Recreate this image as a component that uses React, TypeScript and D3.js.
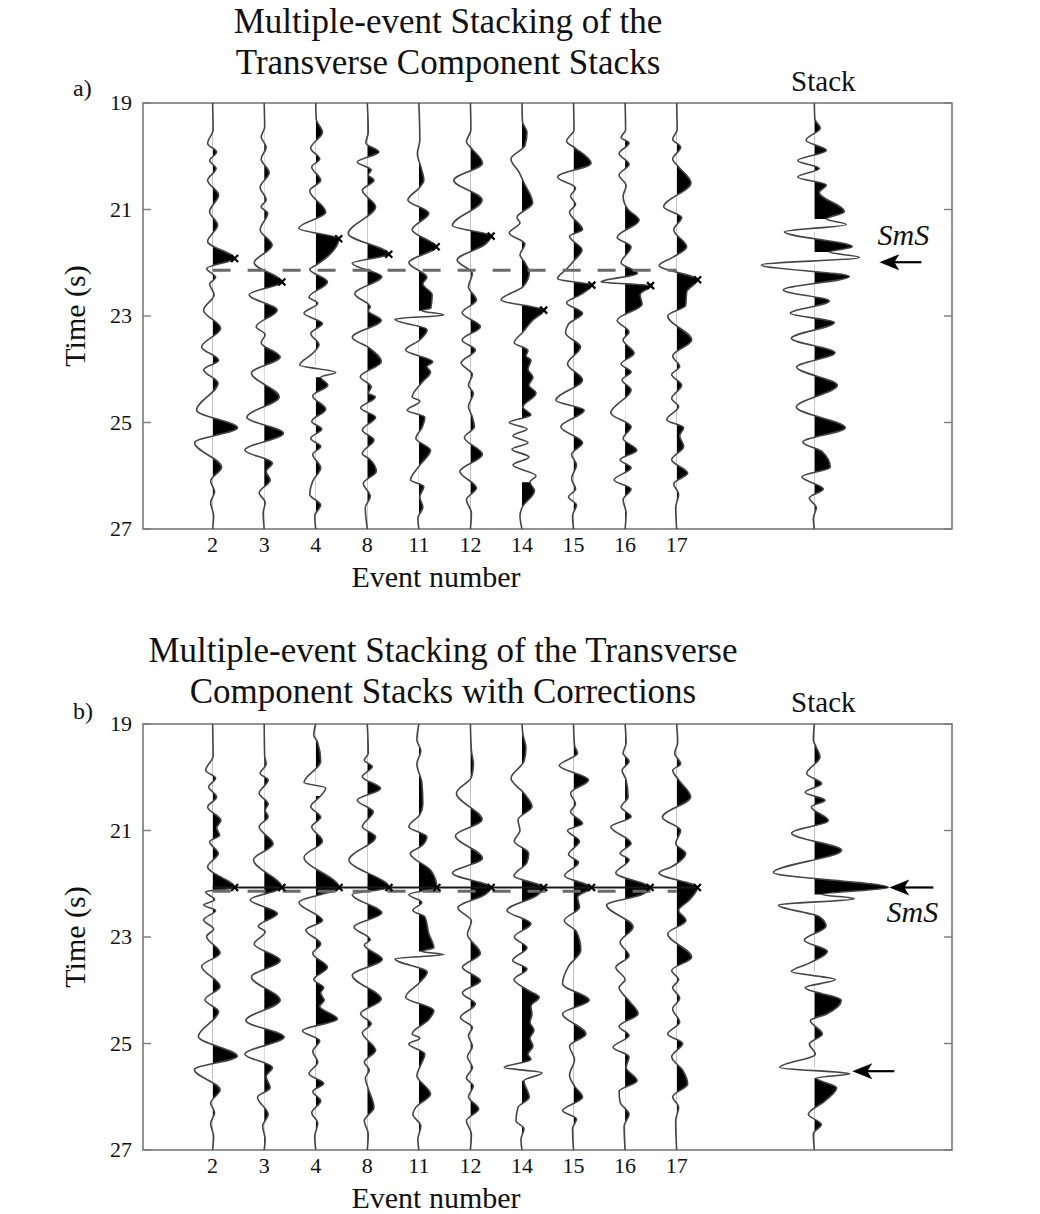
import * as d3 from "d3";
import React from "react";

type Pt = [number, number];

// axis values
const timeTicks = [19, 21, 23, 25, 27];
const eventLabels = ["2", "3", "4", "8", "11", "12", "14", "15", "16", "17"];
const referenceTime = 22.14; // dashed line
const correctedTime = 22.07; // solid line after corrections

// picked SmS times (panel a) and after corrections (panel b)
const picksA = [21.92, 22.36, 21.55, 21.84, 21.7, 21.5, 22.89, 22.42, 22.43, 22.32];
const picksB = [22.07, 22.07, 22.07, 22.07, 22.07, 22.07, 22.07, 22.07, 22.07, 22.07];

// ---- panel a traces: [time (s), amplitude] extrema ----
const traceA2: Pt[] = [[19,0],[19.5,0.05],[19.76,-0.5],[19.92,0.4],[20.08,-0.3],[20.23,0.35],[20.45,-0.5],[20.73,0.6],[21.04,-0.3],[21.29,0.5],[21.6,-0.5],[21.92,2.2],[22.11,-0.6],[22.27,0.3],[22.4,-0.3],[22.6,0.15],[22.89,-0.9],[23.23,0.8],[23.58,-1.1],[23.83,0.6],[24.01,-0.9],[24.26,0.55],[24.77,-1.6],[25.1,2.5],[25.38,-1.8],[25.84,0.9],[26.1,-0.2],[26.3,0.2],[26.5,-0.2],[26.75,0.1],[27,0]];
const traceA3: Pt[] = [[19,0],[19.45,0.05],[19.64,-0.3],[19.83,0.2],[20.05,-0.3],[20.31,0.5],[20.58,-0.4],[20.82,0.2],[20.95,-0.3],[21.07,0.35],[21.38,-0.4],[21.67,0.8],[22.0,-1.0],[22.36,1.77],[22.6,-1.5],[22.89,1.3],[23.2,-0.8],[23.35,0.1],[23.5,-0.3],[23.77,1.6],[24.07,-1.27],[24.52,1.5],[24.9,-1.73],[25.2,1.93],[25.52,-1.93],[25.76,0.83],[25.92,0.2],[26.08,0.6],[26.32,-0.5],[26.5,0.1],[26.7,-0.1],[27,0]];
const traceA4: Pt[] = [[19,0],[19.3,0.05],[19.55,0.67],[19.85,-0.5],[20.05,0.4],[20.2,-0.4],[20.45,0.5],[20.65,-0.6],[21.05,1.0],[21.35,-1.7],[21.55,2.3],[22.05,0],[22.12,-0.6],[22.36,1.17],[22.65,-0.67],[22.76,0.2],[22.95,-1.17],[23.14,0.67],[23.33,-0.5],[23.54,0.33],[23.7,-0.3],[23.92,-1.6],[24.06,2.0],[24.15,0.5],[24.3,1.2],[24.5,-0.3],[24.75,1.0],[24.98,-0.4],[25.12,0.6],[25.3,-0.5],[25.45,0.5],[25.6,-0.3],[25.85,0.5],[26.1,-0.3],[26.35,-0.6],[26.55,0.5],[26.75,-0.1],[27,0]];
const traceA8: Pt[] = [[19,0],[19.55,0.1],[19.75,-0.15],[19.92,1.17],[20.11,-1.0],[20.26,0.4],[20.35,0.1],[20.45,0.67],[20.64,-0.5],[20.95,0.83],[21.45,-1.9],[21.84,2.15],[22.01,-1.5],[22.26,1.45],[22.58,-1.25],[22.83,0.3],[22.9,0.1],[23.08,1.4],[23.4,-1.5],[23.6,0.2],[23.86,1.4],[24.14,-0.7],[24.33,0.4],[24.45,0.1],[24.52,0.8],[24.73,-0.67],[24.9,0.83],[25.14,-0.5],[25.33,0.67],[25.58,-0.5],[25.7,0.3],[25.92,0.9],[26.14,-0.4],[26.39,0.3],[26.6,-0.2],[27,0]];
const traceA11: Pt[] = [[19,0],[19.7,0.1],[19.95,-0.15],[20.2,0.2],[20.45,0.5],[20.6,0.0],[20.82,-1.1],[21.07,1.0],[21.38,-0.67],[21.7,1.73],[22.0,-1.0],[22.27,0.8],[22.4,0.4],[22.6,1.33],[22.85,1.2],[22.9,0.3],[22.98,2.5],[23.06,-2.4],[23.26,0.83],[23.45,0.1],[23.64,-1.33],[23.86,1.4],[23.95,0.8],[24.05,1.17],[24.25,0.3],[24.52,-0.67],[24.6,0.1],[24.77,-1.17],[24.9,0.6],[25.1,0.3],[25.3,-0.3],[25.52,1.17],[25.8,0.1],[26.08,-0.83],[26.2,0.5],[26.4,0.1],[26.59,0.4],[26.8,-0.1],[27,0]];
const traceA12: Pt[] = [[19,0],[19.5,0.05],[19.73,-0.4],[19.85,0.1],[20.13,1.2],[20.45,-1.67],[20.82,1.17],[21.3,-1.8],[21.5,2.07],[21.65,1.5],[21.95,-1.33],[22.2,0.2],[22.45,-0.2],[22.7,0.6],[22.94,-0.83],[23.2,1.0],[23.45,-0.83],[23.64,0.5],[23.88,-0.93],[24.1,0.2],[24.3,-0.2],[24.45,0.3],[24.7,-0.2],[24.9,0.2],[25.08,0.4],[25.28,-0.6],[25.6,1.2],[25.92,-1.05],[26.23,0.6],[26.45,-0.4],[26.7,0.1],[27,0]];
const traceA14: Pt[] = [[19,0],[19.35,0.05],[19.55,0.5],[19.8,0.3],[20.05,-1.1],[20.3,-0.3],[20.5,0.2],[20.88,1.07],[21.15,-0.5],[21.25,-0.2],[21.44,-1.27],[21.65,0.3],[21.85,-0.2],[22.0,0.3],[22.19,0.73],[22.45,0.1],[22.7,-2.1],[22.89,2.17],[23.08,1.07],[23.3,0.1],[23.5,-0.77],[23.65,0.6],[23.75,0.4],[23.83,0.9],[24.0,0.6],[24.15,1.1],[24.3,0.7],[24.45,1.4],[24.71,0.1],[24.86,0.9],[25.0,-1.27],[25.12,0.5],[25.25,-0.9],[25.38,0.6],[25.5,-1.0],[25.65,0.7],[25.8,-0.9],[26.0,1.4],[26.12,0.8],[26.28,1.25],[26.6,0.0],[26.75,-0.2],[27,0]];
const traceA15: Pt[] = [[19,0],[19.5,0.05],[19.72,-0.7],[19.85,0.2],[20.13,1.75],[20.39,-1.6],[20.6,0.2],[20.75,-0.3],[20.9,0.2],[21.05,-0.4],[21.38,0.9],[21.5,-0.4],[21.76,0.85],[21.95,0.1],[22.1,-0.6],[22.3,-1.6],[22.42,1.83],[22.6,0.7],[22.75,-0.7],[22.95,0.9],[23.15,-0.5],[23.32,-0.8],[23.58,0.7],[23.9,-0.6],[24.2,0.9],[24.58,-1.77],[24.77,1.07],[25.08,-1.27],[25.38,0.9],[25.6,-0.2],[25.8,0.3],[26.05,-0.2],[26.25,0.2],[26.4,-0.5],[26.55,0.3],[26.75,-0.1],[27,0]];
const traceA16: Pt[] = [[19,0],[19.5,0.05],[19.65,-0.4],[19.75,0.4],[19.95,-0.6],[20.15,0.4],[20.35,-0.6],[20.55,0.1],[20.75,-0.2],[21.0,0.3],[21.2,1.4],[21.52,-0.8],[21.7,0.6],[22.0,-0.4],[22.2,1.23],[22.36,-2.4],[22.43,2.55],[22.6,1.5],[22.78,1.7],[23.08,-0.8],[23.3,0.4],[23.45,-0.2],[23.7,0.9],[23.9,-0.4],[24.05,0.6],[24.2,-0.3],[24.39,0.6],[24.82,-1.43],[25.08,0.6],[25.3,-0.2],[25.52,1.17],[25.7,-0.5],[25.85,0.6],[26.08,-1.1],[26.25,0.6],[26.45,-0.2],[26.7,0.1],[27,0]];
const traceA17: Pt[] = [[19,0],[19.5,0.05],[19.68,-0.4],[19.83,0.4],[20.05,-0.4],[20.2,0.2],[20.5,1.43],[20.95,-1.3],[21.15,0.5],[21.38,-0.3],[21.7,1.0],[21.9,-0.4],[22.05,-1.75],[22.32,2.1],[22.55,1.0],[22.8,0.9],[23.0,-0.9],[23.45,1.5],[23.75,-0.4],[23.95,0.3],[24.1,-0.5],[24.3,0.5],[24.55,-0.5],[24.7,0.2],[24.95,-1.0],[25.1,0.7],[25.25,0.3],[25.45,0.7],[25.7,-0.5],[25.95,1.1],[26.15,-0.3],[26.35,0.2],[26.6,-0.1],[27,0]];
const stackA: Pt[] = [[19,0],[19.3,0.05],[19.47,0.6],[19.7,-0.83],[19.89,1.2],[20.08,-1.67],[20.23,0.5],[20.39,-1.67],[20.54,1.2],[20.68,0.5],[21.04,3.0],[21.18,1.2],[21.28,3.2],[21.42,-3.0],[21.7,3.8],[21.8,1.5],[21.9,4.5],[22.04,-5.3],[22.26,3.5],[22.51,-3.1],[22.72,1.5],[22.95,-2.4],[23.12,2.0],[23.42,-2.3],[23.69,2.07],[23.96,-1.77],[24.3,2.3],[24.71,-1.8],[25.1,3.1],[25.37,-1.15],[25.55,0.8],[25.84,1.6],[26.02,-1.25],[26.25,0.9],[26.42,-0.5],[26.6,0.2],[26.8,-0.1],[27,0]];

// ---- panel b traces (with corrections) ----
const traceB2: Pt[] = [[19,0],[19.6,0.05],[19.87,-0.7],[20.02,0.3],[20.18,-0.4],[20.37,0.4],[20.56,-0.5],[20.81,0.83],[20.95,0.4],[21.09,0.7],[21.21,-0.3],[21.43,0.57],[21.68,-0.5],[22.07,2.2],[22.15,-0.7],[22.3,0.2],[22.4,-0.9],[22.5,0.3],[22.68,-0.9],[22.85,0.1],[22.99,-0.6],[23.3,0.75],[23.55,-1.1],[23.93,0.75],[24.18,-0.77],[24.4,0.6],[24.87,-1.43],[25.24,2.47],[25.49,-1.83],[25.87,0.75],[26.12,-0.2],[26.3,0.2],[26.5,-0.2],[26.75,0.1],[27,0]];
const traceB3: Pt[] = [[19,0],[19.6,0.05],[19.75,0.2],[19.93,-0.4],[20.05,0.4],[20.3,-0.5],[20.5,0.4],[20.62,0.1],[20.74,0.4],[20.93,-0.5],[21.25,0.9],[21.55,-1.07],[22.07,1.77],[22.3,-1.4],[22.56,1.33],[22.8,-0.6],[22.9,0.1],[23.13,-1.0],[23.44,1.6],[23.75,-1.27],[24.19,1.6],[24.57,-1.83],[24.88,2.0],[25.2,-1.93],[25.45,0.83],[25.62,0.2],[25.83,0.6],[26.01,-0.67],[26.33,0.4],[26.55,-0.15],[26.8,0.1],[27,0]];
const traceB4: Pt[] = [[19,0],[19.2,-0.2],[19.35,0.2],[19.7,0.5],[20.1,-1.17],[20.2,1.0],[20.35,0.5],[20.55,-0.5],[20.75,0.5],[20.93,-0.4],[21.2,0.67],[21.5,-1.17],[22.07,2.33],[22.35,-1.67],[22.69,0.67],[22.87,-1.0],[23.13,0.5],[23.31,-0.3],[23.57,1.17],[23.8,-0.2],[23.95,0.8],[24.05,0.5],[24.19,0.85],[24.3,0.4],[24.54,2.17],[24.76,-1.33],[24.95,0.4],[25.15,-0.3],[25.35,0.2],[25.57,-0.67],[25.75,0.8],[25.9,-0.3],[26.08,0.5],[26.3,-0.4],[26.5,0.2],[26.75,-0.1],[27,0]];
const traceB8: Pt[] = [[19,0],[19.55,0.1],[19.68,-0.3],[19.8,0.5],[19.99,-0.5],[20.21,1.33],[20.43,-1.0],[20.65,0.6],[20.93,-0.5],[21.12,0.83],[21.55,-1.83],[22.07,2.17],[22.2,-1.5],[22.55,1.45],[22.81,-1.33],[23.05,0.3],[23.15,-0.3],[23.42,1.5],[23.72,-1.5],[24.17,1.4],[24.44,-0.67],[24.63,0.4],[24.8,-0.5],[25.13,0.83],[25.35,-0.3],[25.5,0.2],[25.65,-0.2],[25.85,0.1],[26.2,0.67],[26.45,-0.3],[26.7,0.1],[27,0]];
const traceB11: Pt[] = [[19,0],[19.3,-0.2],[19.5,0.2],[19.75,-0.2],[20.1,0.3],[20.5,0.4],[20.7,0.1],[20.93,-1.0],[21.12,0.8],[21.3,0.2],[21.43,-0.87],[21.75,1.2],[22.07,1.8],[22.2,-1.0],[22.35,0.3],[22.5,-0.6],[22.62,0.6],[22.94,1.0],[23.2,1.5],[23.27,0.3],[23.33,2.5],[23.41,-2.4],[23.66,0.83],[23.85,0.1],[24.13,-1.33],[24.38,1.5],[24.55,1.0],[24.82,-0.67],[24.9,0.1],[25.01,-1.0],[25.2,0.6],[25.4,0.2],[25.6,-0.2],[25.95,1.17],[26.2,-0.3],[26.33,-0.6],[26.55,0.2],[26.8,-0.1],[27,0]];
const traceB12: Pt[] = [[19,0],[19.5,0.1],[19.75,0.3],[20.0,0.1],[20.3,-1.4],[20.8,1.17],[21.1,-1.5],[21.52,1.2],[21.8,-1.8],[22.07,2.07],[22.2,1.5],[22.45,-1.25],[22.7,0.1],[22.95,-0.3],[23.31,1.0],[23.57,-0.8],[23.82,1.0],[24.05,-0.8],[24.26,0.5],[24.51,-1.0],[24.7,0.2],[24.85,-0.2],[25.05,0.2],[25.25,-0.3],[25.45,0.2],[25.65,-0.4],[25.8,0.3],[26.0,-0.2],[26.23,0.83],[26.45,-0.4],[26.7,0.1],[27,0]];
const traceB14: Pt[] = [[19,0],[19.2,0.1],[19.45,0.4],[19.7,0.2],[20.02,-1.1],[20.3,0.2],[20.55,1.0],[20.8,-0.4],[21.0,-0.2],[21.2,-0.77],[21.43,0.67],[21.6,0.5],[21.85,-0.8],[22.07,2.17],[22.22,1.5],[22.5,-1.5],[22.75,0.9],[23.0,-0.77],[23.2,0.5],[23.44,-0.93],[23.6,0.5],[23.8,-0.8],[24.0,0.6],[24.13,1.73],[24.3,0.9],[24.45,1.0],[24.6,0.8],[24.75,1.2],[24.9,0.8],[25.05,1.1],[25.2,0.6],[25.3,0.9],[25.45,-1.77],[25.55,2.0],[25.7,0.2],[26.01,0.73],[26.2,-0.4],[26.45,-0.6],[26.6,0.2],[26.8,-0.1],[27,0]];
const traceB15: Pt[] = [[19,0],[19.4,0.1],[19.55,0.4],[19.78,-1.43],[20.05,1.5],[20.3,-0.3],[20.5,0.2],[20.65,-0.3],[20.87,0.9],[21.0,-0.6],[21.2,0.6],[21.45,-0.5],[21.6,0.5],[21.85,-0.9],[22.07,1.8],[22.25,0.4],[22.44,0.6],[22.69,-0.93],[22.9,0.3],[23.25,0.73],[23.55,-0.5],[23.88,-1.1],[24.19,1.57],[24.44,-1.1],[24.82,1.23],[25.05,-0.4],[25.3,0.1],[25.6,-0.4],[25.8,0.1],[26.01,0.9],[26.26,-1.1],[26.42,0.3],[26.6,-0.1],[27,0]];
const traceB16: Pt[] = [[19,0],[19.35,0.1],[19.55,-0.2],[19.7,0.4],[19.87,-0.3],[20.05,0.1],[20.37,0.3],[20.56,-0.4],[20.74,0.6],[20.93,-1.43],[21.24,0.6],[21.43,-0.5],[21.55,0.4],[21.8,-0.93],[22.07,2.5],[22.2,1.73],[22.4,-1.85],[22.81,0.8],[23.1,-0.5],[23.35,0.4],[23.57,-0.93],[23.8,0.0],[23.95,-0.6],[24.2,0.4],[24.44,1.3],[24.68,-0.6],[24.85,0.4],[25.07,-1.2],[25.25,0.4],[25.45,0.1],[25.7,1.2],[25.9,-0.6],[26.1,-0.5],[26.33,0.4],[26.55,-0.1],[27,0]];
const traceB17: Pt[] = [[19,0],[19.35,0.1],[19.55,-0.2],[19.75,0.4],[19.87,-0.4],[20.05,0.2],[20.37,1.4],[20.75,-1.43],[21.0,0.4],[21.25,-0.1],[21.43,0.9],[21.68,-0.5],[21.8,-1.77],[22.07,2.07],[22.3,1.3],[22.5,0.2],[22.69,0.93],[22.94,-0.9],[23.38,1.5],[23.63,-0.5],[23.8,0.2],[23.95,-0.4],[24.15,0.3],[24.35,-0.4],[24.6,0.3],[24.82,-0.9],[25.0,0.6],[25.25,-0.5],[25.5,0.6],[25.76,1.1],[26.0,-0.4],[26.2,0.2],[26.45,-0.1],[27,0]];
const stackB: Pt[] = [[19,0],[19.3,-0.1],[19.42,0.15],[19.62,0.57],[19.93,-0.77],[20.12,0.73],[20.28,-0.93],[20.43,1.07],[20.56,-0.3],[20.81,1.4],[21.05,-2.27],[21.37,2.73],[21.79,-4.1],[22.07,7.4],[22.2,0.8],[22.28,4.0],[22.4,-3.6],[22.62,0.5],[22.8,1.17],[23.06,-1.0],[23.27,1.3],[23.49,-0.5],[23.65,-2.3],[23.8,2.1],[23.95,-0.9],[24.19,2.7],[24.44,1.3],[24.57,-0.4],[24.82,0.8],[25.01,-0.5],[25.2,0.1],[25.45,-3.45],[25.57,3.55],[25.65,0.2],[25.83,2.23],[26.08,1.07],[26.33,-0.6],[26.52,0.7],[26.7,-0.1],[27,0]];

const tracesA = [traceA2, traceA3, traceA4, traceA8, traceA11, traceA12, traceA14, traceA15, traceA16, traceA17];
const tracesB = [traceB2, traceB3, traceB4, traceB8, traceB11, traceB12, traceB14, traceB15, traceB16, traceB17];

// positive lobes drawn as outline only (no black fill)
const hollowA: number[][] = [[], [], [24.06], [], [22.98], [], [25.12, 25.38, 25.65, 26.0], [], [], []];
const hollowB: number[][] = [[], [], [20.2], [], [23.33], [], [25.55], [], [], []];
const hollowStackA = [21.28, 21.9];
const hollowStackB = [22.28, 23.8, 25.57];

const FONT = "'Liberation Serif', 'Times New Roman', serif";
const boxLeft = 143;
const boxRight = 952;
const boxHeight = 426;
const x = d3.scaleLinear().domain([-1.35, 14.34]).range([boxLeft, boxRight]);
const stackPos = 11.67;
const gain = d3.scaleLinear().domain([0, 1]).range([0, 10]);

function fillRanges(pts: Pt[], hollow: number[]): [number, number][] {
  const gaps = hollow
    .map((h) => {
      const i = d3.minIndex(pts, (p) => Math.abs(p[0] - h));
      return [pts[i - 1][0], pts[i + 1][0]] as [number, number];
    })
    .sort((a, b) => a[0] - b[0]);
  const out: [number, number][] = [];
  let start = 19;
  for (const [a, b] of gaps) {
    out.push([start, a]);
    start = b;
  }
  out.push([start, 27]);
  return out;
}

function Wiggle({ id, pts, base, hollow, y }: { id: string; pts: Pt[]; base: number; hollow: number[]; y: d3.ScaleLinear<number, number> }) {
  const line = d3.line<Pt>().x((d) => base + gain(d[1])).y((d) => y(d[0])).curve(d3.curveMonotoneY);
  const area = d3.area<Pt>().y((d) => y(d[0])).x0(base).x1((d) => base + gain(d[1])).curve(d3.curveMonotoneY);
  const ranges = fillRanges(pts, hollow);
  return (
    <g>
      <clipPath id={id}>
        {ranges.map(([a, b], i) => (
          <rect key={i} x={base} y={y(a)} width={120} height={y(b) - y(a)} />
        ))}
      </clipPath>
      <path d={area(pts) || ""} fill="#000" clipPath={`url(#${id})`} />
      <path d={line(pts) || ""} fill="none" stroke="#454545" strokeWidth={1.6} />
    </g>
  );
}

function Arrow({ tipX, tailX, yy }: { tipX: number; tailX: number; yy: number }) {
  return (
    <g>
      <line x1={tipX + 14} x2={tailX} y1={yy} y2={yy} stroke="#000" strokeWidth={2.2} />
      <path d={`M${tipX},${yy} L${tipX + 20},${yy - 8} L${tipX + 15},${yy} L${tipX + 20},${yy + 8} Z`} fill="#000" />
    </g>
  );
}

function Panel({ id, top, letter, letterY, titleLines, titleX, titleY, traces, hollows, stack, stackHollow, picks, corrected }: any) {
  const y = d3.scaleLinear().domain([19, 27]).range([top, top + boxHeight]);
  const bottom = top + boxHeight;
  const midY = (top + bottom) / 2;
  return (
    <g fontFamily={FONT}>
      {titleLines.map((t: string, i: number) => (
        <text key={i} x={titleX} y={titleY + i * 41} textAnchor="middle" fontSize={35} fill="#111">{t}</text>
      ))}
      <text x={73} y={letterY} fontSize={24} fill="#111">{letter}</text>
      <text x={x(stackPos) + 9} y={top - 12} textAnchor="middle" fontSize={29} fill="#111">Stack</text>
      <rect x={boxLeft} y={top} width={boxRight - boxLeft} height={boxHeight} fill="none" stroke="#7a7a7a" strokeWidth={1.6} />
      {timeTicks.map((t) => (
        <g key={t}>
          <line x1={boxLeft} x2={boxLeft + 8} y1={y(t)} y2={y(t)} stroke="#7a7a7a" strokeWidth={1.4} />
          <line x1={boxRight - 8} x2={boxRight} y1={y(t)} y2={y(t)} stroke="#7a7a7a" strokeWidth={1.4} />
          <text x={132} y={y(t)} dy="0.33em" textAnchor="end" fontSize={22} fill="#111">{t}</text>
        </g>
      ))}
      {eventLabels.map((lab, i) => (
        <text key={lab} x={x(i)} y={bottom + 23} textAnchor="middle" fontSize={22} fill="#111">{lab}</text>
      ))}
      <text x={436} y={bottom + 58} textAnchor="middle" fontSize={30} fill="#111">Event number</text>
      <text transform={`translate(85,${midY}) rotate(-90)`} textAnchor="middle" fontSize={30} fill="#111">Time (s)</text>
      {traces.map((pts: Pt[], i: number) => (
        <Wiggle key={i} id={`${id}-t${i}`} pts={pts} base={x(i)} hollow={hollows[i]} y={y} />
      ))}
      <Wiggle id={`${id}-stack`} pts={stack} base={x(stackPos)} hollow={stackHollow} y={y} />
      <line x1={x(0)} x2={x(9)} y1={y(referenceTime)} y2={y(referenceTime)} stroke="#6a6a6a" strokeWidth={3} strokeDasharray="18 17" />
      {corrected && (
        <line x1={x(0)} x2={x(9) + 21} y1={y(correctedTime)} y2={y(correctedTime)} stroke="#1a1a1a" strokeWidth={2} />
      )}
      {picks.map((p: number, i: number) => {
        const pts: Pt[] = traces[i];
        const k = d3.minIndex(pts, (d) => Math.abs(d[0] - p));
        const mx = x(i) + gain(pts[k][1]);
        const my = y(p);
        return (
          <path key={i} d={`M${mx - 3.5},${my - 3.5}L${mx + 3.5},${my + 3.5}M${mx - 3.5},${my + 3.5}L${mx + 3.5},${my - 3.5}`} stroke="#000" strokeWidth={2.2} />
        );
      })}
    </g>
  );
}

export default function App() {
  const yA = d3.scaleLinear().domain([19, 27]).range([103, 103 + boxHeight]);
  const yB = d3.scaleLinear().domain([19, 27]).range([724, 724 + boxHeight]);
  const sx = x(stackPos);
  return (
    <svg width={1040} height={1214} style={{ position: "absolute", left: 0, top: 0, background: "#fff" }}>
      <rect width={1040} height={1214} fill="#fff" />
      <Panel
        id="a" top={103} letter="a)" letterY={96}
        titleLines={["Multiple-event Stacking of the", "Transverse Component Stacks"]}
        titleX={448} titleY={33}
        traces={tracesA} hollows={hollowA} stack={stackA} stackHollow={hollowStackA}
        picks={picksA} corrected={false}
      />
      <Panel
        id="b" top={724} letter="b)" letterY={719}
        titleLines={["Multiple-event Stacking of the Transverse", "Component Stacks with Corrections"]}
        titleX={443} titleY={662}
        traces={tracesB} hollows={hollowB} stack={stackB} stackHollow={hollowStackB}
        picks={picksB} corrected={true}
      />
      <g fontFamily={FONT}>
        <text x={sx + 89} y={245} textAnchor="middle" fontSize={30} fontStyle="italic" fill="#111">SmS</text>
        <Arrow tipX={sx + 65} tailX={sx + 107} yy={yA(21.99)} />
        <text x={sx + 98} y={922} textAnchor="middle" fontSize={30} fontStyle="italic" fill="#111">SmS</text>
        <Arrow tipX={sx + 75} tailX={sx + 119} yy={yB(22.07)} />
        <Arrow tipX={sx + 38} tailX={sx + 80} yy={yB(25.52)} />
      </g>
    </svg>
  );
}
